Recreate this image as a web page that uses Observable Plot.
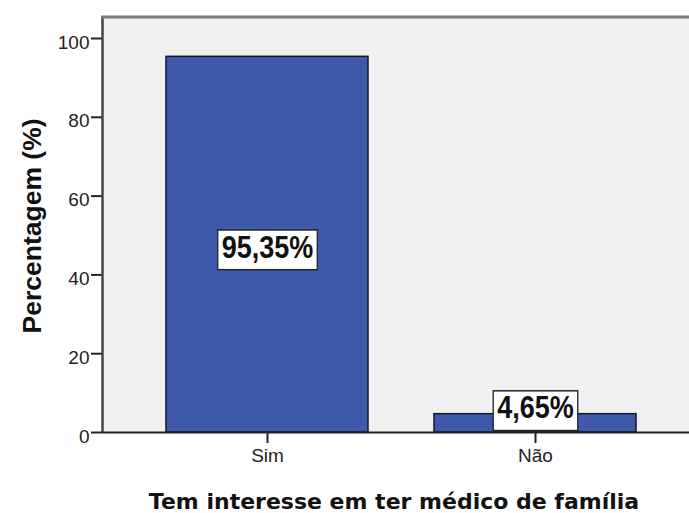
<!DOCTYPE html>
<html><head><meta charset="utf-8">
<script src="https://cdn.jsdelivr.net/npm/d3@7"></script>
<script src="https://cdn.jsdelivr.net/npm/@observablehq/plot@0.6"></script>
<style>
body{margin:0;background:#fff;}
#c{position:relative;width:689px;height:513px;}
</style>
</head><body><div id="c"></div>
<script>
const categories = ["Sim", "Não"];
const percentages = [95.35, 4.65];
const valueLabels = ["95,35%", "4,65%"];
const yTicks = [0, 20, 40, 60, 80, 100];
const xTitle = "Tem interesse em ter médico de família";
const yTitle = "Percentagem (%)";

const data = categories.map((c, i) => ({cat: c, value: percentages[i], label: valueLabels[i]}));

const W = 689, H = 513, mL = 103, mT = 17, mB = 81;
const yMax = 100 * (H - mB - mT) / (432 - 38);
const chart = Plot.plot({
  width: W, height: H,
  marginLeft: mL, marginRight: 0, marginTop: mT, marginBottom: mB,
  style: {fontFamily: "Liberation Sans, Arial, sans-serif", fontSize: "19px", color: "#222", background: "transparent"},
  x: {domain: categories, range: [100, 702], padding: 0.246, label: null},
  y: {domain: [0, yMax], label: null},
  marks: [
    Plot.frame({fill: "#f0f0f0", stroke: null}),
    Plot.axisX({tickSize: 11, tickPadding: 5, strokeWidth: 2, fontSize: 19, label: null}),
    Plot.axisY({ticks: yTicks, tickSize: 12, tickPadding: 2, strokeWidth: 2, fontSize: 19, label: null, className: "yax"}),
    Plot.barY(data, {x: "cat", y: "value", fill: "#3e58aa", stroke: "#15152a", strokeWidth: 1.5}),
    Plot.ruleY([0], {stroke: "#222", strokeWidth: 2}),
    Plot.text(data, {x: "cat", y: d => d.value > 10 ? d.value / 2 - 1 : d.value + 1.2, text: "label",
      fontSize: 27, fontWeight: "bold", fill: "#111", className: "vlabel"})
  ]
});
document.getElementById("c").appendChild(chart);

const svg = d3.select(chart);
// shift y tick labels slightly down as in reference
svg.selectAll(".yax text").each(function() {
  const t = this.getAttribute("transform") || "";
  this.setAttribute("transform", t + " translate(0,4)");
});
// frame lines: left (dark) and top (gray)
svg.append("line").attr("x1", mL - 0.5).attr("x2", mL - 0.5).attr("y1", mT).attr("y2", H - mB)
  .attr("stroke", "#444").attr("stroke-width", 2.5);
svg.append("line").attr("x1", mL - 2).attr("x2", W).attr("y1", mT).attr("y2", mT)
  .attr("stroke", "#7a7a7a").attr("stroke-width", 3);

// white boxes behind value labels (text slightly stretched vertically like the reference)
svg.selectAll(".vlabel text").each(function() {
  const x = +this.getAttribute("x") || 0, y = +this.getAttribute("y") || 0;
  this.removeAttribute("x"); this.removeAttribute("y");
  const t0 = this.getAttribute("transform") || "";
  const t = `${t0} translate(${x},${y + 9}) scale(1,1.14)`;
  this.setAttribute("transform", t);
  const b = this.getBBox();
  const r = document.createElementNS("http://www.w3.org/2000/svg", "rect");
  r.setAttribute("x", b.x - 4); r.setAttribute("y", b.y);
  r.setAttribute("width", b.width + 8); r.setAttribute("height", b.height + 5);
  r.setAttribute("fill", "#fff"); r.setAttribute("stroke", "#222"); r.setAttribute("stroke-width", 1.3);
  r.setAttribute("transform", t);
  this.parentNode.insertBefore(r, this);
});

// axis titles
svg.append("text").attr("x", 394).attr("y", 509).attr("text-anchor", "middle")
  .attr("font-family", "DejaVu Sans, sans-serif").attr("font-weight", "bold").attr("font-size", 22)
  .attr("fill", "#111").text(xTitle);
svg.append("text").attr("transform", `translate(41,226) rotate(-90)`).attr("text-anchor", "middle")
  .attr("font-family", "Liberation Sans, Arial, sans-serif").attr("font-weight", "bold").attr("font-size", 26.5)
  .attr("fill", "#111").text(yTitle);
</script>
</body></html>
